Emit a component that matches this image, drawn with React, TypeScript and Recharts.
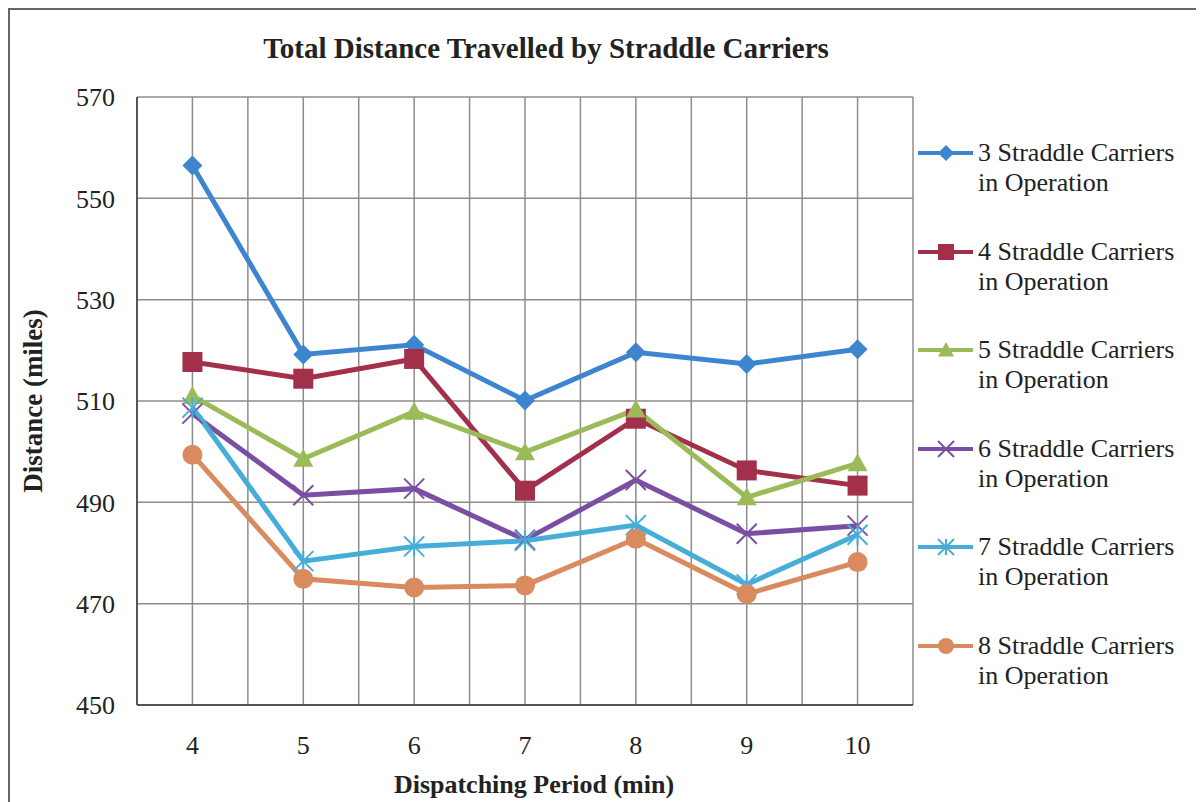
import React from 'react';
import { LineChart, Line, XAxis, YAxis, CartesianGrid, Legend, Label } from 'recharts';

// dispatching periods (min) and distance per carrier count (miles)
const periods = [4, 5, 6, 7, 8, 9, 10];
const carriers3 = [556.5, 519.2, 521.1, 510.1, 519.6, 517.3, 520.2];
const carriers4 = [517.7, 514.4, 518.3, 492.3, 506.5, 496.3, 493.3];
const carriers5 = [511.0, 498.6, 507.9, 499.9, 508.3, 491.0, 497.7];
const carriers6 = [507.5, 491.4, 492.7, 482.6, 494.4, 483.8, 485.4];
const carriers7 = [508.7, 478.4, 481.3, 482.4, 485.5, 473.8, 483.6];
const carriers8 = [499.4, 474.9, 473.2, 473.6, 482.8, 471.9, 478.2];

const yTicks = [450, 470, 490, 510, 530, 550, 570];
const xGridTicks = [3.5, 4, 4.5, 5, 5.5, 6, 6.5, 7, 7.5, 8, 8.5, 9, 9.5, 10, 10.5];

const seriesNames = [
  '3 Straddle Carriers in Operation',
  '4 Straddle Carriers in Operation',
  '5 Straddle Carriers in Operation',
  '6 Straddle Carriers in Operation',
  '7 Straddle Carriers in Operation',
  '8 Straddle Carriers in Operation',
];

type Shape = 'diamond' | 'square' | 'triangle' | 'x' | 'star' | 'circle';

const series: { key: string; name: string; color: string; shape: Shape; values: number[] }[] = [
  { key: 's3', name: seriesNames[0], color: '#3D85CF', shape: 'diamond', values: carriers3 },
  { key: 's4', name: seriesNames[1], color: '#A3304B', shape: 'square', values: carriers4 },
  { key: 's5', name: seriesNames[2], color: '#9BBB59', shape: 'triangle', values: carriers5 },
  { key: 's6', name: seriesNames[3], color: '#7A4FA3', shape: 'x', values: carriers6 },
  { key: 's7', name: seriesNames[4], color: '#46ADD9', shape: 'star', values: carriers7 },
  { key: 's8', name: seriesNames[5], color: '#D98B5F', shape: 'circle', values: carriers8 },
];

const rows = periods.map((p, i) => {
  const row: Record<string, number> = { period: p };
  series.forEach((s) => {
    row[s.key] = s.values[i];
  });
  return row;
});

const FONT = '"Liberation Serif", "Times New Roman", serif';

function Marker({ cx, cy, shape, color, r = 10 }: { cx: number; cy: number; shape: Shape; color: string; r?: number }) {
  if (cx == null || cy == null) return null;
  switch (shape) {
    case 'diamond':
      return <polygon points={`${cx},${cy - r} ${cx + r},${cy} ${cx},${cy + r} ${cx - r},${cy}`} fill={color} />;
    case 'square':
      return <rect x={cx - r} y={cy - r} width={2 * r} height={2 * r} fill={color} />;
    case 'triangle':
      return <polygon points={`${cx},${cy - r} ${cx + r},${cy + r * 0.8} ${cx - r},${cy + r * 0.8}`} fill={color} />;
    case 'x':
      return (
        <g stroke={color} strokeWidth={2}>
          <line x1={cx - r} y1={cy - r} x2={cx + r} y2={cy + r} />
          <line x1={cx - r} y1={cy + r} x2={cx + r} y2={cy - r} />
        </g>
      );
    case 'star':
      return (
        <g stroke={color} strokeWidth={2}>
          <line x1={cx - r} y1={cy - r} x2={cx + r} y2={cy + r} />
          <line x1={cx - r} y1={cy + r} x2={cx + r} y2={cy - r} />
          <line x1={cx} y1={cy - r} x2={cx} y2={cy + r} />
        </g>
      );
    default:
      return <circle cx={cx} cy={cy} r={r} fill={color} />;
  }
}

const renderLegend = () => (
  <div style={{ fontFamily: FONT, fontSize: 26, lineHeight: '30px', color: '#222' }}>
    {series.map((s) => (
      <div key={s.key} style={{ display: 'flex', alignItems: 'flex-start', height: 98.5 }}>
        <svg width={58} height={30} style={{ flex: 'none' }}>
          <line x1={0} y1={15} x2={55} y2={15} stroke={s.color} strokeWidth={4} />
          <Marker cx={28} cy={15} shape={s.shape} color={s.color} r={8} />
        </svg>
        <div style={{ whiteSpace: 'pre-line', marginLeft: 2 }}>{s.name.replace(' in ', '\nin ')}</div>
      </div>
    ))}
  </div>
);

export default function App() {
  return (
    <div
      style={{
        position: 'relative',
        width: 1196,
        height: 794,
        background: '#fff',
        borderLeft: '2px solid #666',
        borderTop: '2px solid #666',
        boxSizing: 'border-box',
      }}
    >
      <div
        style={{
          position: 'absolute',
          left: 36,
          top: 21,
          width: 1000,
          textAlign: 'center',
          fontFamily: FONT,
          fontWeight: 700,
          fontSize: 29,
          lineHeight: '34px',
          color: '#222',
        }}
      >
        Total Distance Travelled by Straddle Carriers
      </div>
      <div style={{ position: 'absolute', left: -2, top: -2 }}>
        <LineChart width={1196} height={794} data={rows} margin={{ top: 89, right: 291, bottom: 0, left: 0 }}>
          <CartesianGrid stroke="#8c8c8c" strokeWidth={1.5} />
          <XAxis
            dataKey="period"
            type="number"
            domain={[3.5, 10.5]}
            ticks={xGridTicks}
            interval={0}
            tickFormatter={(v: number) => (Number.isInteger(v) ? String(v) : '')}
            height={97}
            tickSize={0}
            tickMargin={31}
            axisLine={{ stroke: '#555', strokeWidth: 2 }}
            tick={{ fontFamily: FONT, fontSize: 26, fill: '#222' }}
          >
            <Label
              value="Dispatching Period (min)"
              position="insideBottom"
              offset={9}
              dx={9}
              style={{ fontFamily: FONT, fontSize: 26, fontWeight: 700, fill: '#222' }}
            />
          </XAxis>
          <YAxis
            domain={[450, 570]}
            ticks={yTicks}
            interval={0}
            width={129}
            tickSize={0}
            tickMargin={22}
            axisLine={{ stroke: '#555', strokeWidth: 2 }}
            tick={{ fontFamily: FONT, fontSize: 26, fill: '#222' }}
          >
            <Label
              value="Distance (miles)"
              angle={-90}
              position="insideLeft"
              offset={24}
              style={{ fontFamily: FONT, fontSize: 27, fontWeight: 700, fill: '#222', textAnchor: 'middle' }}
            />
          </YAxis>
          <Legend
            layout="vertical"
            align="center"
            verticalAlign="middle"
            content={renderLegend}
            wrapperStyle={{ left: 910, top: 130, width: 286, height: 600 }}
          />
          {series.map((s) => (
            <Line
              key={s.key}
              dataKey={s.key}
              name={s.name}
              stroke={s.color}
              strokeWidth={5}
              isAnimationActive={false}
              dot={(p: any) => <Marker key={`${s.key}-${p.index}`} cx={p.cx} cy={p.cy} shape={s.shape} color={s.color} />}
              activeDot={false}
            />
          ))}
        </LineChart>
      </div>
    </div>
  );
}
